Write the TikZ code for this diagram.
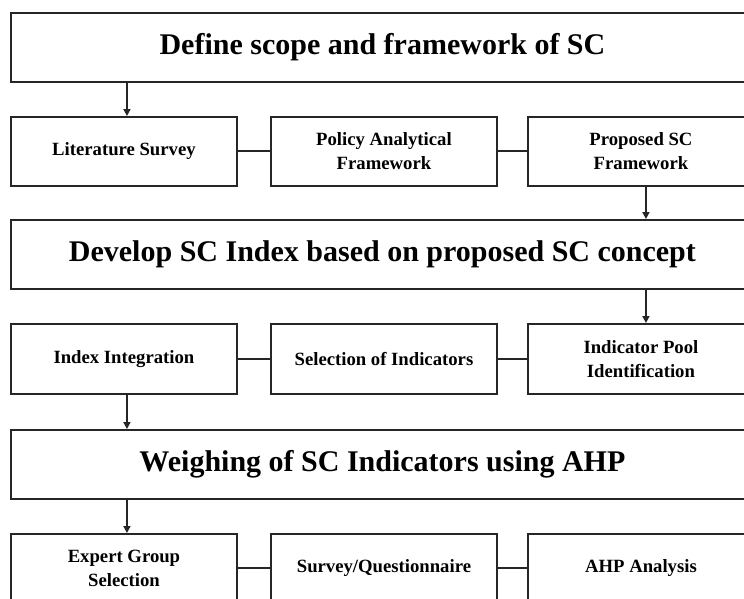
\documentclass[tikz,border=0pt]{standalone}
\usepackage{fontspec}
\setmainfont{Liberation Serif}
\usetikzlibrary{arrows.meta}
\begin{document}
\begin{tikzpicture}[x=1pt,y=-1pt,
  bigbox/.style={draw=black!85, line width=1.9pt, rectangle, anchor=north west,
    minimum width=743pt, minimum height=69pt, inner sep=0pt,
    font=\fontsize{30}{36}\selectfont\bfseries},
  smallbox/.style={draw=black!85, line width=1.9pt, rectangle, anchor=north west,
    minimum width=226pt, minimum height=69pt, inner sep=0pt, align=center,
    font=\fontsize{18.7}{24}\selectfont\bfseries},
  link/.style={draw=black!85, line width=2pt},
  arr/.style={draw=black!85, line width=1.7pt, -{Triangle[width=7pt,length=7pt]}}]
\useasboundingbox (0,0) rectangle (744,598);
\fill[white] (0,0) rectangle (744,598);
% level 1
\node[bigbox] (d1) at (10,12) {Define scope and framework of SC};
\node[smallbox] (a1) at (10,116) {Literature Survey};
\node[smallbox] (a2) at (270,116) {Policy Analytical\\Framework};
\node[smallbox] (a3) at (527,116) {Proposed SC\\Framework};
% level 2
\node[bigbox] (d2) at (10,219) {Develop SC Index based on proposed SC concept};
\node[smallbox, minimum height=70pt] (b1) at (10,323) {Index Integration};
\node[smallbox, minimum height=70pt] (b2) at (270,323) {Selection of Indicators};
\node[smallbox, minimum height=70pt] (b3) at (527,323) {Indicator Pool\\Identification};
% level 3
\node[bigbox] (d3) at (10,429) {Weighing of SC Indicators using AHP};
\node[smallbox] (c1) at (10,533) {Expert Group\\Selection};
\node[smallbox] (c2) at (270,533) {Survey/Questionnaire};
\node[smallbox] (c3) at (527,533) {AHP Analysis};
% horizontal links
\draw[link] (a1.east) -- (a2.west);
\draw[link] (a2.east) -- (a3.west);
\draw[link] (b1.east) -- (b2.west);
\draw[link] (b2.east) -- (b3.west);
\draw[link] (c1.east) -- (c2.west);
\draw[link] (c2.east) -- (c3.west);
% arrows
\draw[arr] ([xshift=3pt]a1.north |- d1.south) -- ([xshift=3pt]a1.north);
\draw[arr] ([xshift=5pt]a3.south) -- ([xshift=5pt]a3.south |- d2.north);
\draw[arr] ([xshift=5pt]b3.north |- d2.south) -- ([xshift=5pt]b3.north);
\draw[arr] ([xshift=3pt]b1.south) -- ([xshift=3pt]b1.south |- d3.north);
\draw[arr] ([xshift=3pt]c1.north |- d3.south) -- ([xshift=3pt]c1.north);
\end{tikzpicture}
\end{document}
